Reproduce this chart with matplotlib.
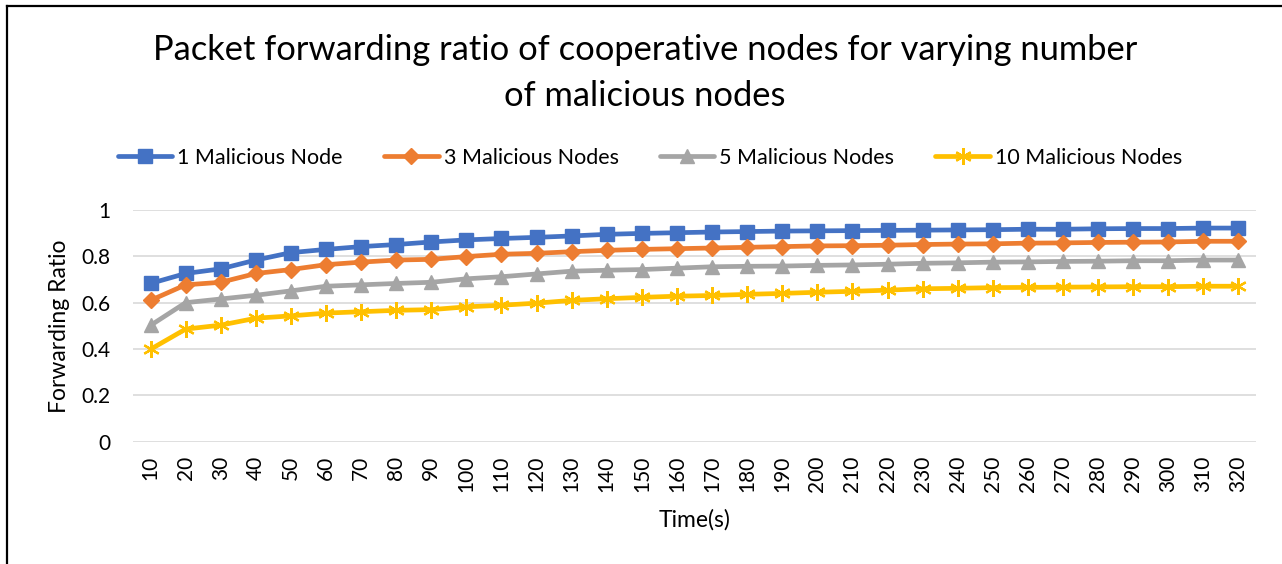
import matplotlib
matplotlib.use("Agg")
import matplotlib.pyplot as plt
from matplotlib.lines import Line2D

plt.rcParams['font.family'] = ['Lato', 'DejaVu Sans']

times = [10, 20, 30, 40, 50, 60, 70, 80, 90, 100, 110, 120, 130, 140, 150, 160,
         170, 180, 190, 200, 210, 220, 230, 240, 250, 260, 270, 280, 290, 300, 310, 320]
one_node = [0.683, 0.726, 0.746, 0.784, 0.816, 0.830, 0.842, 0.851, 0.862, 0.871, 0.877,
            0.882, 0.888, 0.895, 0.899, 0.902, 0.905, 0.907, 0.909, 0.910, 0.911, 0.912,
            0.913, 0.914, 0.915, 0.917, 0.917, 0.919, 0.920, 0.920, 0.922, 0.922]
three_nodes = [0.610, 0.677, 0.688, 0.726, 0.743, 0.764, 0.775, 0.784, 0.787, 0.799, 0.809,
               0.813, 0.820, 0.826, 0.830, 0.833, 0.836, 0.839, 0.842, 0.845, 0.846, 0.848,
               0.851, 0.853, 0.854, 0.857, 0.858, 0.860, 0.861, 0.862, 0.865, 0.865]
five_nodes = [0.502, 0.600, 0.616, 0.632, 0.651, 0.671, 0.677, 0.683, 0.688, 0.703, 0.712,
              0.724, 0.736, 0.740, 0.743, 0.749, 0.755, 0.757, 0.758, 0.761, 0.763, 0.766,
              0.770, 0.772, 0.775, 0.776, 0.778, 0.779, 0.781, 0.781, 0.784, 0.784]
ten_nodes = [0.399, 0.486, 0.503, 0.533, 0.543, 0.555, 0.561, 0.567, 0.570, 0.582, 0.589,
             0.598, 0.610, 0.617, 0.623, 0.628, 0.631, 0.636, 0.640, 0.645, 0.649, 0.654,
             0.660, 0.662, 0.665, 0.666, 0.667, 0.668, 0.669, 0.669, 0.671, 0.671]
series_names = ['1 Malicious Node', '3 Malicious Nodes', '5 Malicious Nodes', '10 Malicious Nodes']
y_ticks = [0, 0.2, 0.4, 0.6, 0.8, 1]

W, H = 1282, 564
fig = plt.figure(figsize=(W / 100, H / 100), dpi=100)
ax = fig.add_axes([133 / W, 1 - 441.7 / H, (1256 - 133) / W, (441.7 - 210) / H])

x = list(range(len(times)))
styles = [
    dict(color='#4472C4', marker='s', markersize=10.5),
    dict(color='#ED7D31', marker='D', markersize=8.5),
    dict(color='#A5A5A5', marker='^', markersize=10.5),
    dict(color='#FFC000', marker=(6, 2, 0), markersize=12, markeredgewidth=1.6),
]
for vals, name, st in zip([one_node, three_nodes, five_nodes, ten_nodes], series_names, styles):
    ax.plot(x, vals, linewidth=3.4, label=name, solid_capstyle='round', **st)

ax.set_xlim(-0.5, len(times) - 0.5)
ax.set_ylim(0, 1)
ax.set_yticks(y_ticks)
ax.set_yticklabels([f'{v:g}' for v in y_ticks])
ax.set_xticks(x)
ax.set_xticklabels([str(t) for t in times], rotation=90)
ax.grid(axis='y', color='#D9D9D9', linewidth=1.2)
ax.set_axisbelow(True)
for s in ax.spines.values():
    s.set_visible(False)
ax.tick_params(axis='both', length=0, labelsize=15, colors='#000000')
ax.tick_params(axis='y', pad=16.5)
ax.tick_params(axis='x', pad=10)
ax.set_xlabel('Time(s)', fontsize=16.5, labelpad=12)
ax.set_ylabel('Forwarding Ratio', fontsize=16.5, labelpad=8)

fig.text(0.503, 1 - 50 / H, 'Packet forwarding ratio of cooperative nodes for varying number',
         ha='center', va='center', fontsize=24.8)
fig.text(0.503, 1 - 96 / H, 'of malicious nodes', ha='center', va='center', fontsize=24.8)

ax.legend(loc='center', bbox_to_anchor=(650 / W, 1 - 158 / H), bbox_transform=fig.transFigure,
          ncol=4, frameon=False, fontsize=15.5, handlelength=2.55, handletextpad=0.23,
          columnspacing=1.9)

fig.add_artist(Line2D([6.5 / W, 6.5 / W], [0, 1 - 5.5 / H], color='black', linewidth=1.6,
                      transform=fig.transFigure))
fig.add_artist(Line2D([6.5 / W, 1], [1 - 5.5 / H, 1 - 5.5 / H], color='black', linewidth=1.6,
                      transform=fig.transFigure))

fig.savefig('out.png', dpi=100)
